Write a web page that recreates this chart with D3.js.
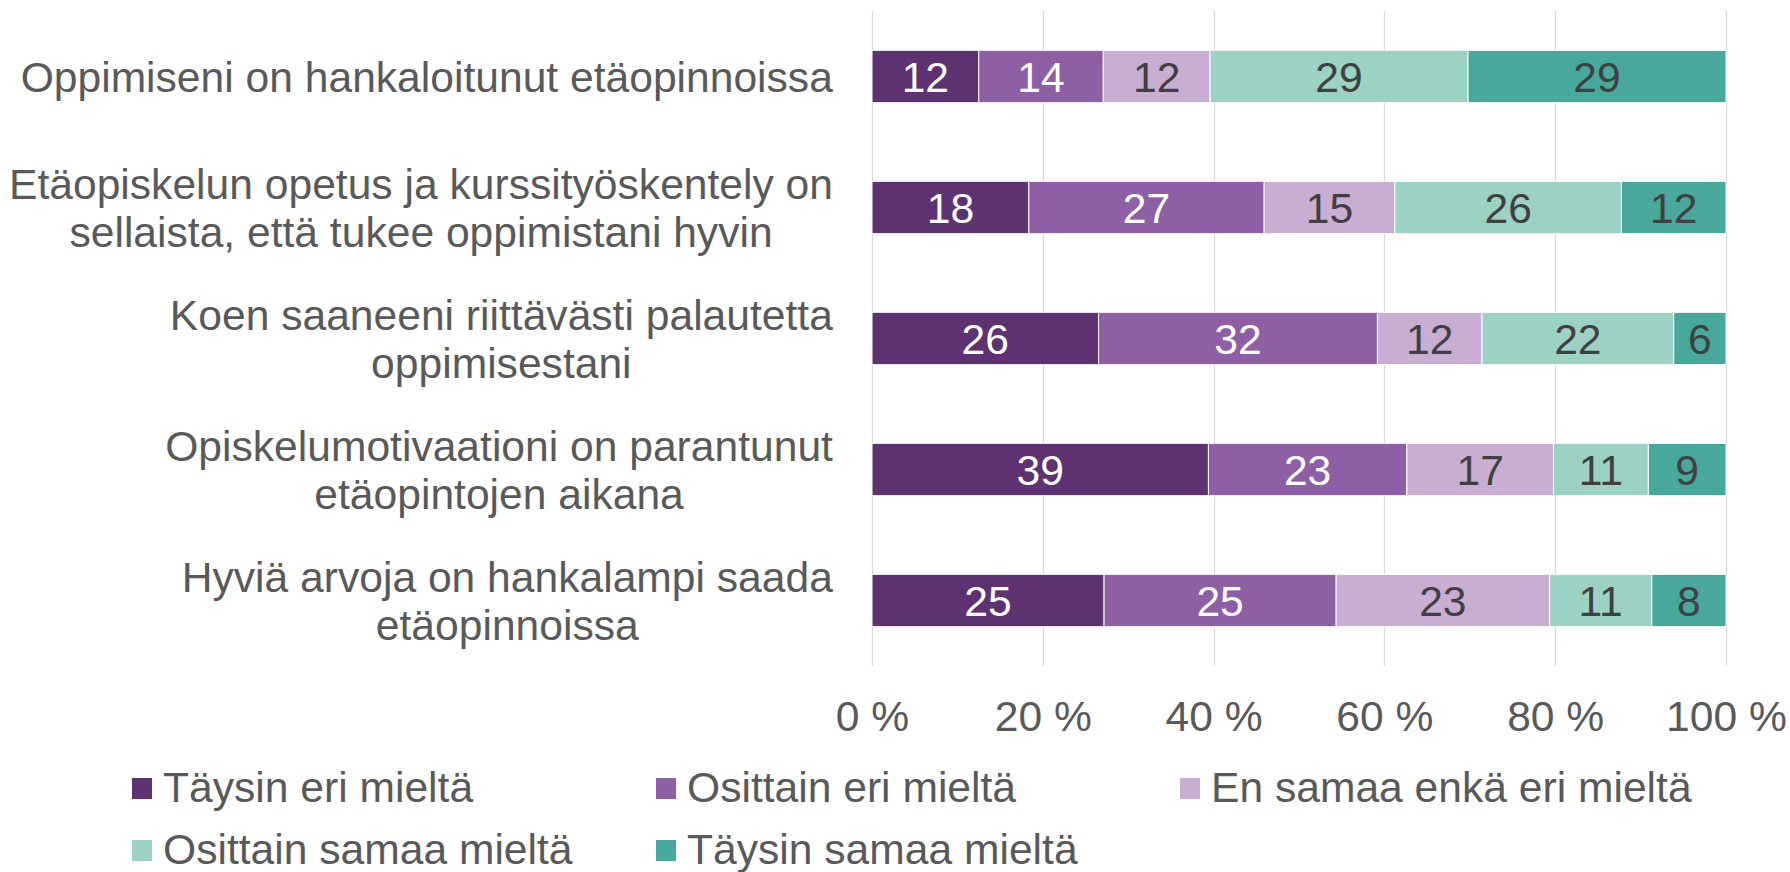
<!DOCTYPE html>
<html><head><meta charset="utf-8">
<script src="https://cdn.jsdelivr.net/npm/d3@7"></script>
<style>body{margin:0;background:#fff;} svg{display:block;}</style>
</head><body>
<svg id="c" width="1790" height="872"></svg>
<script>
const categories = [
  ["Oppimiseni on hankaloitunut etäopinnoissa"],
  ["Etäopiskelun opetus ja kurssityöskentely on", "sellaista, että tukee oppimistani hyvin"],
  ["Koen saaneeni riittävästi palautetta", "oppimisestani"],
  ["Opiskelumotivaationi on parantunut", "etäopintojen aikana"],
  ["Hyviä arvoja on hankalampi saada", "etäopinnoissa"]
];
const seriesNames = ["Täysin eri mieltä", "Osittain eri mieltä", "En samaa enkä eri mieltä", "Osittain samaa mieltä", "Täysin samaa mieltä"];
const taysinEri   = [12, 18, 26, 39, 25];
const osittainEri = [14, 27, 32, 23, 25];
const enSamaa     = [12, 15, 12, 17, 23];
const osittainSamaa = [29, 26, 22, 11, 11];
const taysinSamaa = [29, 12, 6, 9, 8];
const tickValues = [0, 0.2, 0.4, 0.6, 0.8, 1];
const tickLabels = ["0 %", "20 %", "40 %", "60 %", "80 %", "100 %"];
const colors = ["#5E3170", "#8E5FA5", "#C9AED4", "#9BD2C3", "#47A89B"];
const labelColors = ["#ffffff", "#ffffff", "#404040", "#404040", "#404040"];

const seriesValues = [taysinEri, osittainEri, enSamaa, osittainSamaa, taysinSamaa];
const rows = categories.map((c, i) => {
  const o = {idx: i};
  seriesNames.forEach((s, j) => o[s] = seriesValues[j][i]);
  return o;
});
const stack = d3.stack().keys(seriesNames).offset(d3.stackOffsetExpand);
const stacked = stack(rows);

const svg = d3.select("#c");
const font = "'Liberation Sans', Arial, sans-serif";
const fs = 42.6;
const x = d3.scaleLinear().domain([0, 1]).range([872, 1726]);
const y = d3.scaleBand().domain(d3.range(categories.length)).range([11, 666]).paddingInner(0.6).paddingOuter(0.3);

// gridlines
svg.append("g").selectAll("line").data(tickValues).join("line")
  .attr("x1", d => Math.round(x(d)) + 0.5).attr("x2", d => Math.round(x(d)) + 0.5)
  .attr("y1", 11).attr("y2", 666)
  .attr("stroke", "#D9D9D9").attr("stroke-width", 1.3);

// bars
const g = svg.append("g");
stacked.forEach((s, j) => {
  g.append("g").selectAll("rect").data(s).join("rect")
    .attr("x", d => x(d[0])).attr("width", d => x(d[1]) - x(d[0]))
    .attr("y", (d, i) => y(i)).attr("height", y.bandwidth())
    .attr("fill", colors[j]).attr("stroke", "#fff").attr("stroke-width", 1);
  g.append("g").selectAll("text").data(s).join("text")
    .attr("x", d => (x(d[0]) + x(d[1])) / 2)
    .attr("y", (d, i) => y(i) + y.bandwidth() / 2 + 15)
    .attr("text-anchor", "middle")
    .attr("font-family", font).attr("font-size", fs)
    .attr("fill", labelColors[j])
    .text((d, i) => seriesValues[j][i]);
});

// category labels
const cat = svg.append("g");
categories.forEach((lines, i) => {
  const cy = y(i) + y.bandwidth() / 2;
  const lh = 48;
  const start = cy + 15 - (lines.length - 1) * lh / 2;
  const t = cat.append("text").attr("text-anchor", "middle")
    .attr("font-family", font).attr("font-size", fs).attr("fill", "#595959");
  lines.forEach((ln, k) => {
    t.append("tspan").attr("x", 0).attr("y", start + k * lh).text(ln);
  });
  const w = t.node().getBBox().width;
  t.attr("transform", `translate(${833 - w / 2},0)`);
});

// x axis tick labels
const axis = d3.axisBottom(x).tickValues(tickValues).tickFormat((d, i) => tickLabels[i]).tickSize(0).tickPadding(0);
const ax = svg.append("g").attr("transform", "translate(0,700)").call(axis);
ax.select(".domain").remove();
ax.selectAll("text").attr("font-family", font).attr("font-size", fs).attr("fill", "#595959").attr("dy", "0.73em");

// legend
const legPos = [[132, 0], [656, 0], [1180, 0], [132, 1], [656, 1]];
const leg = svg.append("g");
seriesNames.forEach((s, j) => {
  const [lx, r] = legPos[j];
  const base = r === 0 ? 802 : 864;
  leg.append("rect").attr("x", lx).attr("y", base - 24).attr("width", 20).attr("height", 21).attr("fill", colors[j]);
  leg.append("text").attr("x", lx + 31).attr("y", base)
    .attr("font-family", font).attr("font-size", fs).attr("fill", "#595959").text(s);
});
</script>
</body></html>
